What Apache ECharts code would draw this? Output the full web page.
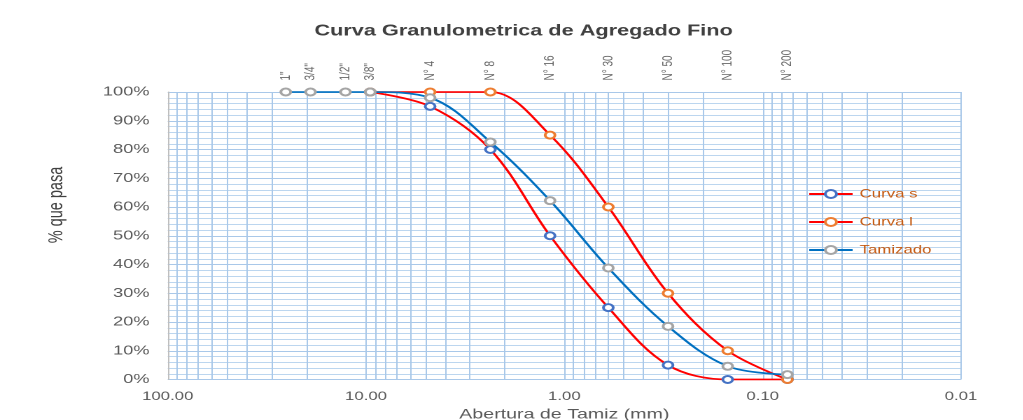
<!DOCTYPE html>
<html>
<head>
<meta charset="utf-8">
<script src="https://cdn.jsdelivr.net/npm/echarts@6/dist/echarts.min.js"></script>
<style>
  html, body { margin: 0; padding: 0; overflow: hidden; background: #ffffff; }
  #chart { width: 731px; height: 420px; transform: scaleX(1.4); transform-origin: 0 0; }
</style>
</head>
<body>
<div id="chart"></div>
<script>
// ---- data ----
const sieveNames = ['1"', '3/4"', '1/2"', '3/8"', 'N° 4', 'N° 8', 'N° 16', 'N° 30', 'N° 50', 'N° 100', 'N° 200'];
const sieveSizes = [25.4, 19.05, 12.7, 9.525, 4.75, 2.36, 1.18, 0.6, 0.3, 0.15, 0.075];
const curvaS   = [null, null, null, 100, 95, 80, 50, 25, 5, 0, 0];
const curvaL   = [null, null, null, 100, 100, 100, 85, 60, 30, 10, 0];
const tamizado = [100, 100, 100, 100, 98, 82.6, 62.2, 38.8, 18.5, 4.6, 1.7];
const xTickValues = [100, 10, 1, 0.1, 0.01];
const minorGridValues = [
  90, 80, 70, 60, 50, 40, 30, 20,
  9, 8, 7, 6, 5, 4, 3, 2,
  0.9, 0.8, 0.7, 0.6, 0.5, 0.4, 0.3, 0.2,
  0.09, 0.08, 0.07, 0.06, 0.05, 0.04, 0.03, 0.02
];

function pairs(vals) {
  const out = [];
  vals.forEach((v, i) => { if (v !== null) out.push([sieveSizes[i], v]); });
  return out;
}

const FONT = "'Liberation Sans', Arial, sans-serif";
const GRID_BLUE = '#a9c8e9';

const chart = echarts.init(document.getElementById('chart'), null, { devicePixelRatio: 2 });

chart.setOption({
  animation: false,
  textStyle: { fontFamily: FONT },
  title: {
    text: 'Curva Granulometrica de Agregado Fino',
    left: 369, top: 18, textAlign: 'center',
    textStyle: { fontSize: 15.5, fontWeight: 'bold', color: '#404040', fontFamily: FONT }
  },
  legend: {
    data: ['Curva s', 'Curva l', 'Tamizado'],
    orient: 'vertical', left: 572, top: 183,
    itemWidth: 31, itemHeight: 10, itemGap: 16,
    textStyle: { color: '#c55a11', fontSize: 12, fontFamily: FONT }
  },
  grid: { left: 119.8, right: 44.6, top: 92, bottom: 40.5, containLabel: false, outerBoundsMode: 'none' },
  graphic: [{
    type: 'text', x: 40.7, y: 205, rotation: Math.PI / 2,
    style: { text: '% que pasa', fontSize: 14.5, fontFamily: FONT, fill: '#404040', align: 'center', verticalAlign: 'middle' }
  }],
  xAxis: {
    type: 'log', logBase: 10, min: 0.01, max: 100, inverse: true,
    axisLine: { show: false }, axisTick: { show: false },
    axisLabel: {
      fontSize: 12, color: '#595959', margin: 11,
      formatter: v => {
        const n = Number(v);
        const hit = xTickValues.find(t => Math.abs(t - n) / t < 1e-6);
        return hit !== undefined ? hit.toFixed(2) : '';
      }
    },
    splitLine: { show: true, lineStyle: { color: GRID_BLUE, width: 1 } },
    name: 'Abertura de Tamiz (mm)', nameLocation: 'middle', nameGap: 28,
    nameTextStyle: { fontSize: 14, color: '#595959', fontFamily: FONT }
  },
  yAxis: {
    type: 'value', min: 0, max: 100, interval: 10,
    axisLabel: { formatter: '{value}%', fontSize: 13, color: '#595959', margin: 13 },
    axisLine: { show: true, lineStyle: { color: '#bfbfbf', width: 1 } },
    axisTick: { show: false },
    splitLine: { show: true, lineStyle: { color: GRID_BLUE, width: 1 } },
    minorTick: { show: false, splitNumber: 5 },
    minorSplitLine: { show: true, lineStyle: { color: '#bcd6ef', width: 1 } }
  },
  series: [
    {
      type: 'scatter', name: 'sieves', silent: true, z: 1,
      symbolSize: 1, itemStyle: { color: 'transparent' },
      data: sieveSizes.map((s, i) => ({ value: [s, 100], name: sieveNames[i] })),
      label: {
        show: true, formatter: '{b}', position: 'top', distance: 11,
        rotate: 90, align: 'left', verticalAlign: 'middle',
        fontSize: 10, color: '#404040', fontFamily: FONT
      },
      markLine: {
        silent: true, symbol: 'none', z: 1, animation: false,
        label: { show: false },
        lineStyle: { color: GRID_BLUE, width: 1, type: 'solid' },
        emphasis: { disabled: true },
        data: minorGridValues.map(v => ({ xAxis: v }))
      }
    },
    {
      name: 'Curva s', type: 'line', data: pairs(curvaS), smooth: 0.35, z: 3,
      symbol: 'emptyCircle', symbolSize: 7,
      lineStyle: { color: '#ff0000', width: 1.8 },
      itemStyle: { color: '#4472c4', borderWidth: 1.2 }
    },
    {
      name: 'Curva l', type: 'line', data: pairs(curvaL), smooth: 0.35, z: 3,
      symbol: 'emptyCircle', symbolSize: 7,
      lineStyle: { color: '#ff0000', width: 1.8 },
      itemStyle: { color: '#ed7d31', borderWidth: 1.2 }
    },
    {
      name: 'Tamizado', type: 'line', data: pairs(tamizado), smooth: 0.35, z: 4,
      symbol: 'emptyCircle', symbolSize: 7,
      lineStyle: { color: '#0070c0', width: 1.8 },
      itemStyle: { color: '#a5a5a5', borderWidth: 1.2 }
    }
  ]
});
</script>
</body>
</html>
